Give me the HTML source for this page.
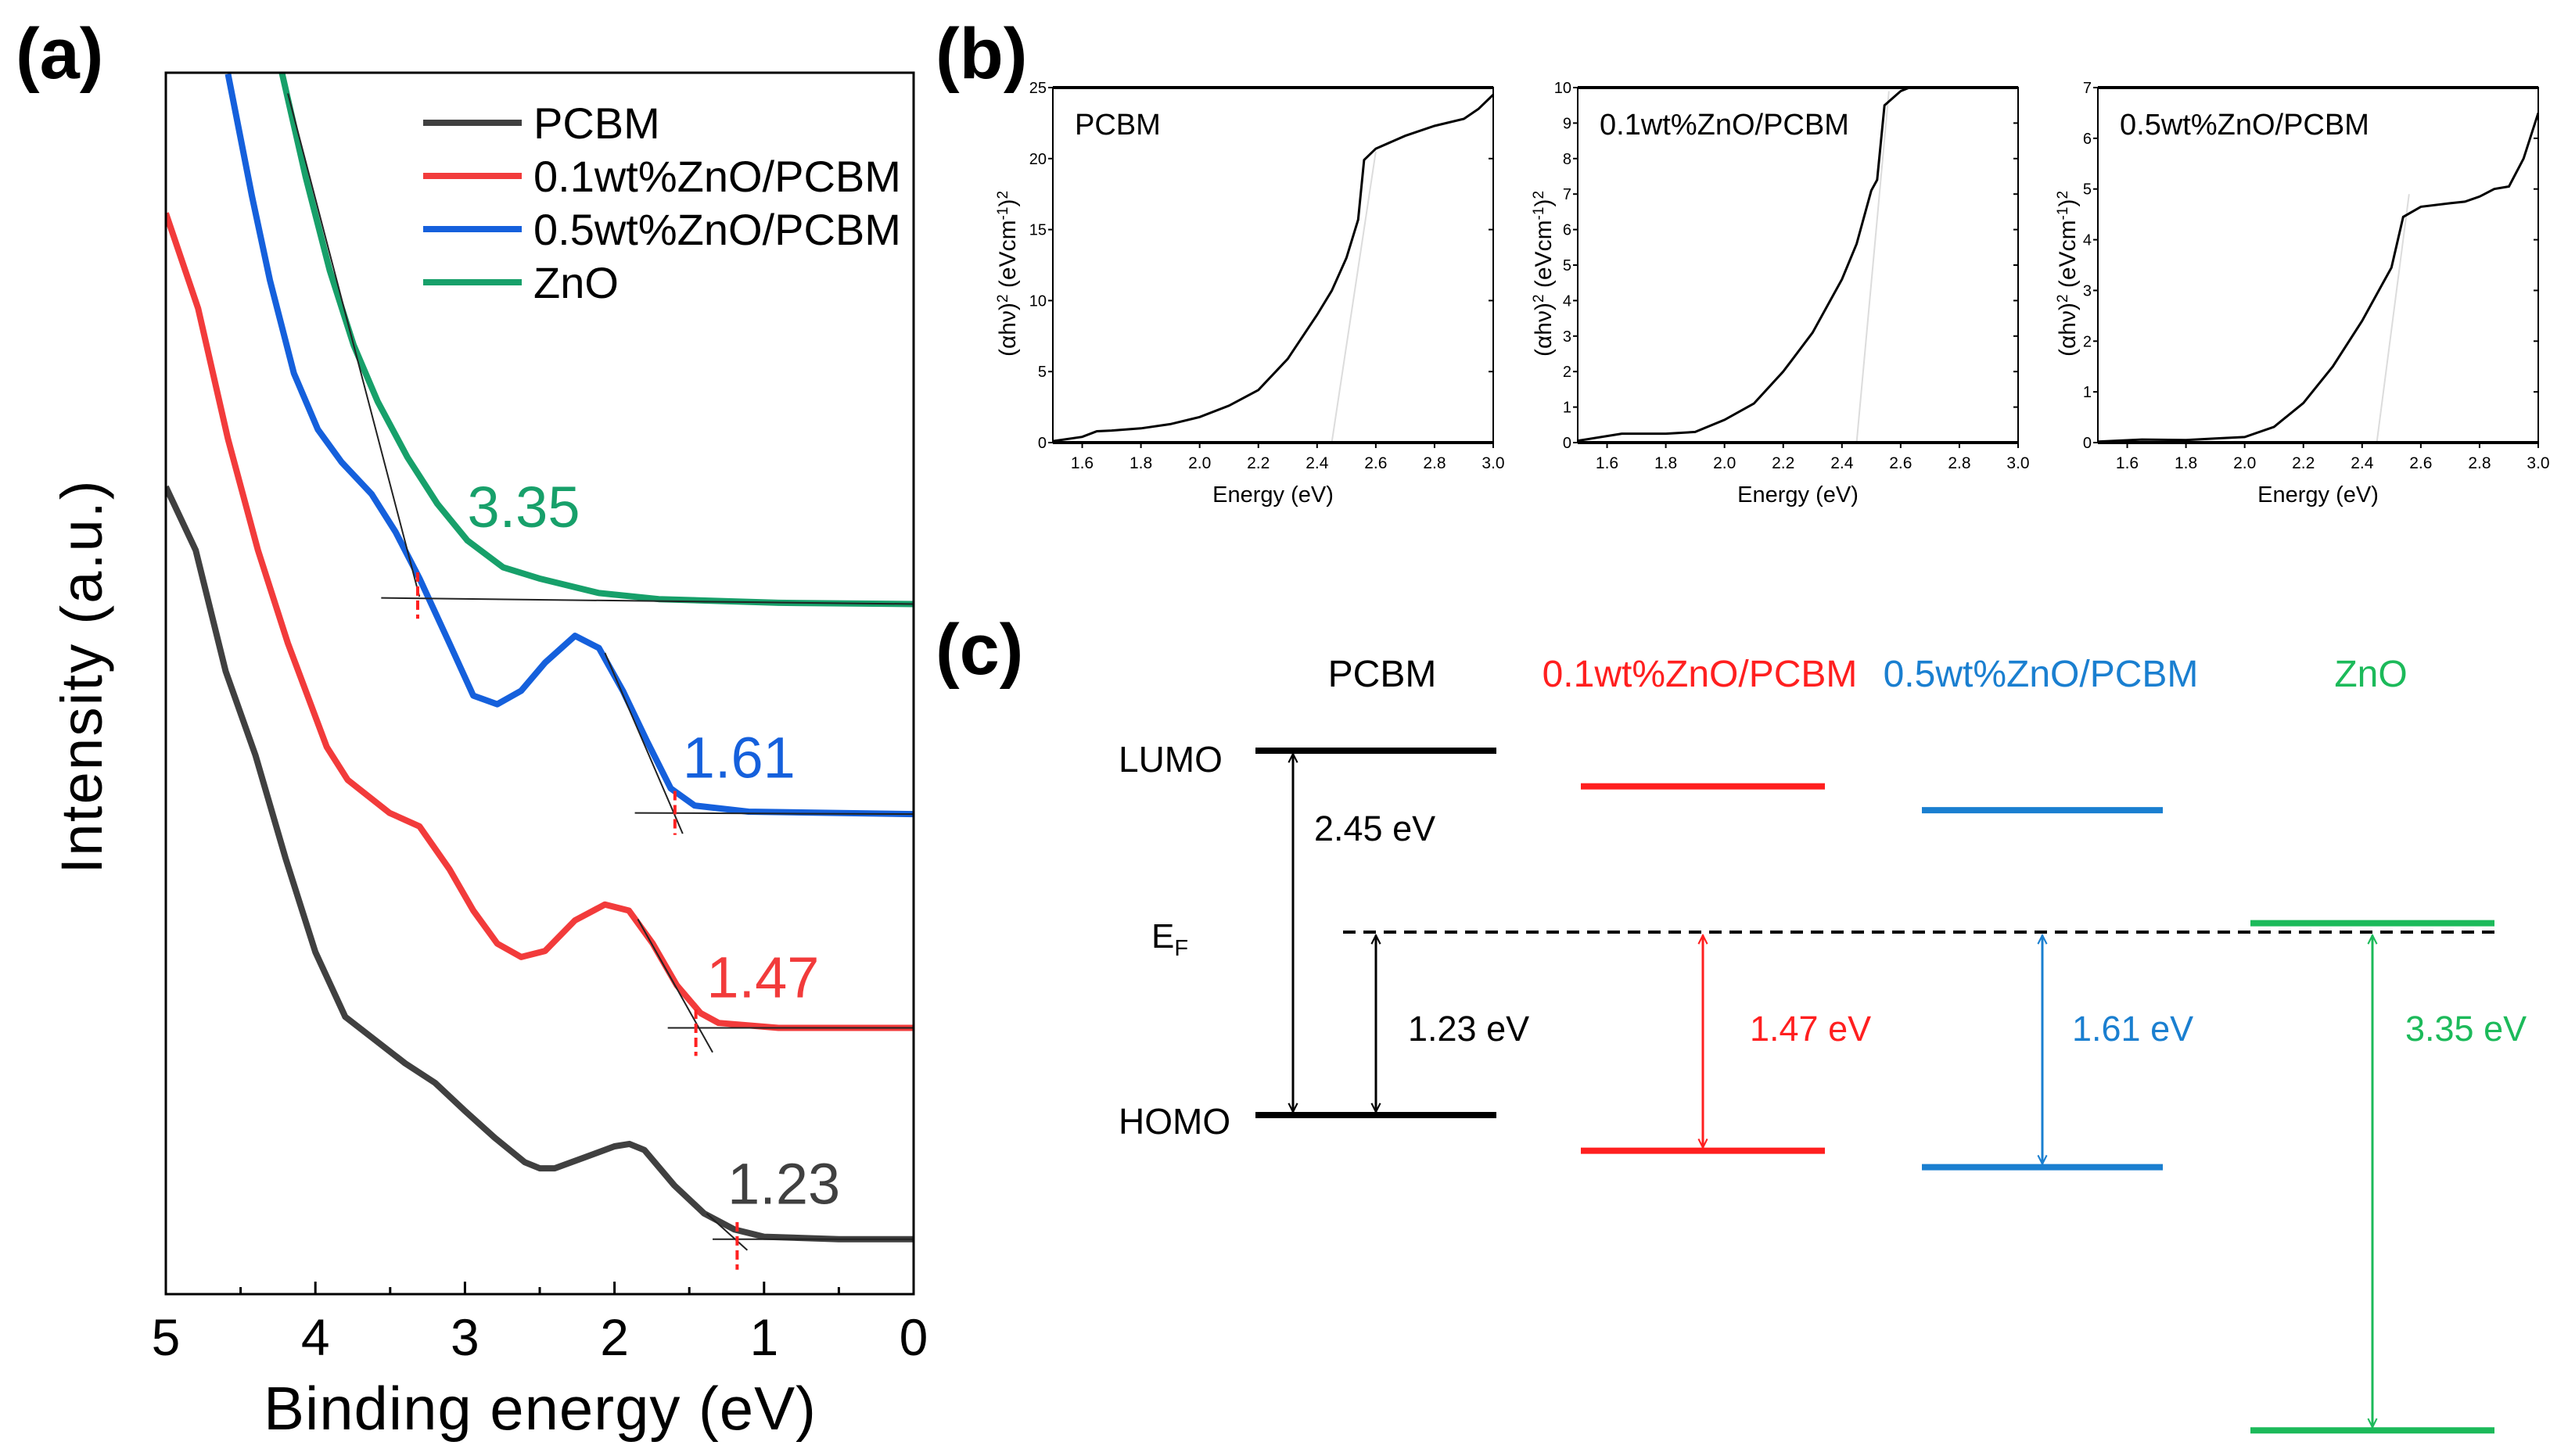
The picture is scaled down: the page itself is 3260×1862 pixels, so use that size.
<!DOCTYPE html>
<html><head><meta charset="utf-8"><style>
html,body{margin:0;padding:0;background:#fff}
svg{display:block}
text{font-family:"Liberation Sans",Arial,sans-serif}
</style></head><body>
<svg id="fig" width="3260" height="1862" viewBox="0 0 3260 1862" xmlns="http://www.w3.org/2000/svg">
<defs>
<marker id="ah" viewBox="0 0 20 20" refX="18" refY="10" markerWidth="14" markerHeight="14" markerUnits="userSpaceOnUse" orient="auto-start-reverse"><path d="M2,2 L18,10 L2,18" fill="none" stroke="context-stroke" stroke-width="3"/></marker>
</defs>
<text x="20" y="100" font-size="92" font-weight="bold">(a)</text>
<text x="1196" y="100" font-size="92" font-weight="bold">(b)</text>
<text x="1196" y="862" font-size="92" font-weight="bold">(c)</text>
<g id="pa"></g>
<g id="pb"></g>
<g id="pc"></g>
</svg>
<script>
// ---------- Panel (a) data ----------
const aSeriesNames = ["PCBM","0.1wt%ZnO/PCBM","0.5wt%ZnO/PCBM","ZnO"];
const aColors = ["#404040","#f23b3b","#1560dc","#17a06a"];
const aPcbmE = [5,4.8,4.6,4.4,4.2,4.0,3.8,3.6,3.4,3.2,3.0,2.8,2.6,2.5,2.4,2.2,2.0,1.9,1.8,1.6,1.4,1.2,1.0,0.5,0];
const aPcbmI = [66.1,60.9,51.0,44.1,35.7,28.0,22.7,20.8,18.9,17.3,15.0,12.8,10.8,10.3,10.3,11.2,12.1,12.3,11.8,8.9,6.6,5.3,4.7,4.5,4.5];
const aRedE = [5.0,4.784,4.584,4.384,4.184,3.924,3.784,3.504,3.304,3.104,2.944,2.784,2.624,2.464,2.264,2.064,1.904,1.744,1.584,1.424,1.304,0.904,0];
const aRedI = [88.5,80.7,70.0,60.9,53.3,44.8,42.1,39.4,38.3,34.8,31.4,28.7,27.6,28.1,30.6,31.9,31.4,28.7,25.3,23.0,22.2,21.8,21.8];
const aBlueE = [4.584,4.424,4.304,4.144,3.984,3.824,3.624,3.464,3.304,3.104,2.944,2.784,2.624,2.464,2.264,2.104,1.944,1.784,1.624,1.464,1.104,0];
const aBlueI = [99.9,89.9,83.0,75.4,70.8,68.1,65.5,62.4,58.6,53.3,49.0,48.3,49.4,51.7,53.9,52.9,49.4,45.3,41.4,40.0,39.5,39.3];
const aGreenE = [4.224,4.064,3.904,3.744,3.584,3.384,3.184,2.984,2.744,2.504,2.104,1.704,0.904,0];
const aGreenI = [100,91.4,83.8,77.7,73.1,68.5,64.7,61.7,59.5,58.6,57.4,56.9,56.6,56.5];
const aOnsetLabels = ["1.23","1.47","1.61","3.35"];
const aOnsetE = [1.18,1.456,1.596,3.316];
const aLabelE = [1.244,1.384,1.544,2.984];
const aLabelI = [7.4,24.3,42.3,62.8];
const aTangent = [[1.384,6.6,1.112,3.6],[1.844,30.7,1.344,19.8],[2.064,52.5,1.544,37.7],[4.184,98.3,3.304,57.1]];
const aBaseline = [[1.344,4.5,0,4.5],[1.644,21.8,0,21.8],[1.864,39.4,0,39.3],[3.56,57.0,0,56.5]];
const aMarkerI = [[5.9,2.0],[23.3,19.5],[41.2,37.6],[59.1,55.3]];
const aTicks = [5,4,3,2,1,0];

// ---------- Panel (b) data ----------
const bTitles = ["PCBM","0.1wt%ZnO/PCBM","0.5wt%ZnO/PCBM"];
const bYMax = [25,10,7];
const bYStep = [5,1,1];
const bXTicks = [1.6,1.8,2.0,2.2,2.4,2.6,2.8,3.0];
const b1E = [1.5,1.6,1.65,1.7,1.8,1.9,2.0,2.1,2.2,2.3,2.4,2.45,2.5,2.54,2.56,2.6,2.7,2.8,2.9,2.95,3.0];
const b1V = [0.1,0.4,0.8,0.85,1.0,1.3,1.8,2.6,3.7,5.9,9.0,10.7,13.0,15.7,19.9,20.7,21.6,22.3,22.8,23.5,24.5];
const b2E = [1.5,1.65,1.8,1.9,2.0,2.1,2.2,2.3,2.4,2.45,2.5,2.52,2.545,2.6,2.63];
const b2V = [0.05,0.25,0.25,0.3,0.64,1.1,2.0,3.1,4.6,5.6,7.1,7.4,9.5,9.9,10.0];
const b3E = [1.5,1.65,1.8,1.9,2.0,2.1,2.2,2.3,2.4,2.5,2.54,2.6,2.7,2.75,2.8,2.85,2.9,2.95,3.0];
const b3V = [0.02,0.06,0.05,0.08,0.11,0.31,0.78,1.5,2.4,3.45,4.45,4.65,4.72,4.75,4.85,5.0,5.05,5.6,6.5];
const bTangent = [[2.45,0,2.6,20.5],[2.45,0,2.56,9.9],[2.45,0,2.56,4.9]];

// ---------- Panel (c) data (eV, PCBM HOMO = 0) ----------
const cNames = ["PCBM","0.1wt%ZnO/PCBM","0.5wt%ZnO/PCBM","ZnO"];
const cColors = ["#000000","#ff1f1f","#1a7fd0","#1cba5a"];
const cTop = [2.45,2.21,2.05,1.29];
const cBottom = [0,-0.24,-0.35,-2.12];
const cGaps = ["2.45 eV","1.47 eV","1.61 eV","3.35 eV"];
const cEF = 1.23;

const NS="http://www.w3.org/2000/svg";
function mk(tag,attrs,parent,name,inter){
  const e=document.createElementNS(NS,tag);
  for(const k in attrs) e.setAttribute(k,attrs[k]);
  
  
  parent.appendChild(e);return e;
}
// ----- Panel a -----
const pa=document.getElementById('pa');
const AX0=212,AX1=1168,AY0=93,AY1=1655;
function xA(E){return AX0+(5-E)/5*(AX1-AX0);}
function yA(v){return AY1-v/100*(AY1-AY0);}
const cp=mk('clipPath',{id:'clipA'},pa,'clip-a',false);
mk('rect',{x:AX0,y:AY0,width:AX1-AX0,height:AY1-AY0},cp,'clip-rect',false);
const aE=[aPcbmE,aRedE,aBlueE,aGreenE], aI=[aPcbmI,aRedI,aBlueI,aGreenI];
for(let s=0;s<4;s++){
  const pts=aE[s].map((e,i)=>xA(e).toFixed(1)+','+yA(aI[s][i]).toFixed(1)).join(' ');
  const l=mk('polyline',{points:pts,fill:'none',stroke:aColors[s],'stroke-width':8,'stroke-linejoin':'round','clip-path':'url(#clipA)'},pa,'series-line',false);
  
}
for(let s=0;s<4;s++){
  const t=aTangent[s];
  mk('line',{x1:xA(t[0]),y1:yA(t[1]),x2:xA(t[2]),y2:yA(t[3]),stroke:'#222','stroke-width':2},pa,'tangent-line',false);
  const b=aBaseline[s];
  mk('line',{x1:xA(b[0]),y1:yA(b[1]),x2:xA(b[2]),y2:yA(b[3]),stroke:'#222','stroke-width':2},pa,'baseline-line',false);
  mk('line',{x1:xA(aOnsetE[s]),y1:yA(aMarkerI[s][0]),x2:xA(aOnsetE[s]),y2:yA(aMarkerI[s][1]),stroke:'#ff2020','stroke-width':4,'stroke-dasharray':'12,6'},pa,'onset-marker',false);
  const tx=mk('text',{x:xA(aLabelE[s]),y:yA(aLabelI[s]),'font-size':74,fill:aColors[s]},pa,'onset-value-label',false);
  tx.textContent=aOnsetLabels[s];
}
mk('rect',{x:AX0,y:AY0,width:AX1-AX0,height:AY1-AY0,fill:'none',stroke:'#000','stroke-width':3},pa,'plot-frame-a',false);
for(let k=0;k<=10;k++){
  const E=5-k*0.5, x=xA(E), len=(k%2==0)?16:9;
  mk('line',{x1:x,y1:AY1,x2:x,y2:AY1-len,stroke:'#000','stroke-width':3},pa,'x-tick',false);
}
aTicks.forEach(E=>{
  const t=mk('text',{x:xA(E),y:1733,'font-size':66,'text-anchor':'middle'},pa,'x-tick-label',false);t.textContent=E;
});
let t=mk('text',{x:690,y:1828,'font-size':78,'text-anchor':'middle',textLength:706},pa,'x-axis-title',false);t.textContent='Binding energy (eV)';
t=mk('text',{x:0,y:0,'font-size':74,'text-anchor':'middle',textLength:503,transform:'translate(130,866) rotate(-90)'},pa,'y-axis-title',false);t.textContent='Intensity (a.u.)';
const legY=[157,225,293,361];
for(let s=0;s<4;s++){
  mk('line',{x1:541,y1:legY[s],x2:667,y2:legY[s],stroke:aColors[s],'stroke-width':8},pa,'legend-swatch',false);
  const lt=mk('text',{x:682,y:legY[s]+20,'font-size':56},pa,'legend-entry',false);lt.textContent=aSeriesNames[s];
}
// ----- Panel b -----
const pb=document.getElementById('pb');
const bX0=[1346,2017,2682], BW=563, BY0=112, BY1=566;
const bE=[b1E,b2E,b3E], bV=[b1V,b2V,b3V], bYT=[1288,1973,2643];
for(let p=0;p<3;p++){
  const x0=bX0[p], ym=bYMax[p];
  const xB=E=>x0+(E-1.5)/1.5*BW, yB=v=>BY1-v/ym*(BY1-BY0);
  const cid='clipB'+p;
  const c=mk('clipPath',{id:cid},pb,'clip-b',false);
  mk('rect',{x:x0,y:BY0,width:BW,height:BY1-BY0},c,'clip-rect',false);
  const tg=bTangent[p];
  mk('line',{x1:xB(tg[0]),y1:yB(tg[1]),x2:xB(tg[2]),y2:yB(tg[3]),stroke:'#dcdcdc','stroke-width':2},pb,'tangent-line',false);
  const pts=bE[p].map((e,i)=>xB(e).toFixed(1)+','+yB(bV[p][i]).toFixed(1)).join(' ');
  mk('polyline',{points:pts,fill:'none',stroke:'#000','stroke-width':3,'clip-path':'url(#'+cid+')'},pb,'tauc-curve',false);
  mk('rect',{x:x0,y:BY0,width:BW,height:BY1-BY0,fill:'none',stroke:'#000','stroke-width':2},pb,'plot-frame-b',false);
  mk('line',{x1:x0,y1:BY0,x2:x0+BW,y2:BY0,stroke:'#000','stroke-width':4},pb,'top-axis',false);
  mk('line',{x1:x0,y1:BY1,x2:x0+BW,y2:BY1,stroke:'#000','stroke-width':4},pb,'bottom-axis',false);
  bXTicks.forEach(E=>{
    mk('line',{x1:xB(E),y1:BY1,x2:xB(E),y2:BY1+7,stroke:'#000','stroke-width':2},pb,'x-tick',false);
    const tt=mk('text',{x:xB(E),y:BY1+33,'font-size':21,'text-anchor':'middle'},pb,'x-tick-label',false);tt.textContent=E.toFixed(1);
  });
  for(let v=0;v<=ym+1e-9;v+=bYStep[p]){
    mk('line',{x1:x0,y1:yB(v),x2:x0-6,y2:yB(v),stroke:'#000','stroke-width':2},pb,'y-tick',false);
    mk('line',{x1:x0+BW,y1:yB(v),x2:x0+BW-6,y2:yB(v),stroke:'#000','stroke-width':2},pb,'y-tick-right',false);
    const tt=mk('text',{x:x0-8,y:yB(v)+7,'font-size':20,'text-anchor':'end'},pb,'y-tick-label',false);tt.textContent=v;
  }
  let q=mk('text',{x:x0+BW/2,y:642,'font-size':29,'text-anchor':'middle'},pb,'x-axis-title',false);q.textContent='Energy (eV)';
  q=mk('text',{x:0,y:0,'font-size':30,'text-anchor':'middle',transform:'translate('+(bYT[p]+10)+',350) rotate(-90)'},pb,'y-axis-title',false);
  q.innerHTML='(αhν)<tspan dy="-10" font-size="19">2</tspan><tspan dy="10"> (eVcm</tspan><tspan dy="-10" font-size="19">-1</tspan><tspan dy="10">)</tspan><tspan dy="-10" font-size="19">2</tspan>';
  q=mk('text',{x:x0+28,y:172,'font-size':38},pb,'plot-title',false);q.textContent=bTitles[p];
}
// ----- Panel c -----
const pc=document.getElementById('pc');
const yTopPx=960, yHomoPx=1426;
const yC=e=>yHomoPx-(e/2.45)*(yHomoPx-yTopPx);
const cX=[[1605,1913],[2021,2333],[2457,2765],[2877,3189]];
const cHead=[1767,2173,2609,3031];
const cArrowX=[1653,2177,2611,3033];
const cLabelX=[1680,2237,2649,3075];
for(let s=0;s<4;s++){
  let h=mk('text',{x:cHead[s],y:878,'font-size':48,'text-anchor':'middle',fill:cColors[s]},pc,'material-heading',false);h.textContent=cNames[s];
  mk('line',{x1:cX[s][0],y1:yC(cTop[s]),x2:cX[s][1],y2:yC(cTop[s]),stroke:cColors[s],'stroke-width':8},pc,'upper-level',false);
  mk('line',{x1:cX[s][0],y1:yC(cBottom[s]),x2:cX[s][1],y2:yC(cBottom[s]),stroke:cColors[s],'stroke-width':8},pc,'lower-level',false);
  const yA1 = s===0?yC(cTop[0]):yC(cEF);
  mk('line',{x1:cArrowX[s],y1:yA1+4,x2:cArrowX[s],y2:yC(cBottom[s])-4,stroke:cColors[s],'stroke-width':3,'marker-start':'url(#ah)','marker-end':'url(#ah)'},pc,'gap-arrow',false);
  const ly = s===0?1075:1331;
  h=mk('text',{x:cLabelX[s],y:ly,'font-size':45,fill:cColors[s]},pc,'gap-label',false);h.textContent=cGaps[s];
}
mk('line',{x1:1717,y1:yC(cEF),x2:3189,y2:yC(cEF),stroke:'#000','stroke-width':4,'stroke-dasharray':'16,10'},pc,'fermi-level-line',false);
mk('line',{x1:1759,y1:yC(cEF)+4,x2:1759,y2:yHomoPx-4,stroke:'#000','stroke-width':3,'marker-start':'url(#ah)','marker-end':'url(#ah)'},pc,'ef-homo-arrow',false);
let q=mk('text',{x:1800,y:1331,'font-size':45},pc,'pcbm-ef-gap-label',false);q.textContent='1.23 eV';
q=mk('text',{x:1430,y:987,'font-size':46},pc,'lumo-label',false);q.textContent='LUMO';
q=mk('text',{x:1430,y:1450,'font-size':46},pc,'homo-label',false);q.textContent='HOMO';
q=mk('text',{x:1472,y:1212,'font-size':44},pc,'fermi-label',false);q.innerHTML='E<tspan font-size="29" dy="10">F</tspan>';
</script>
</body></html>
